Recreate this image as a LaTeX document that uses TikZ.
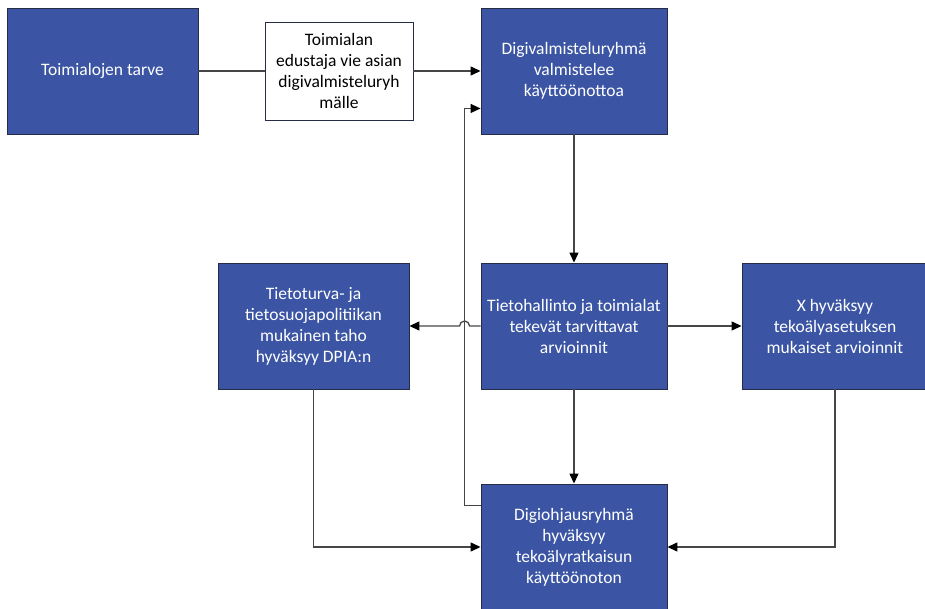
\documentclass[tikz,border=0pt]{standalone}
\usepackage{fontspec}
\setmainfont{Carlito}
\usetikzlibrary{arrows.meta,calc}
\definecolor{boxblue}{RGB}{59,85,164}
\definecolor{boxedge}{RGB}{38,44,70}
\definecolor{linegray}{RGB}{70,70,70}

\begin{document}
\begin{tikzpicture}[x=1pt,y=-1pt,
    bluebox/.style={draw=boxedge, line width=0.9pt, fill=boxblue, text=white,
        align=center, inner sep=0pt, minimum width=186pt, minimum height=126pt,
        font=\fontsize{17.5}{21}\selectfont},
    notebox/.style={draw=boxedge, line width=0.9pt, fill=white, align=center,
        inner sep=0pt, minimum width=148pt, minimum height=98pt,
        font=\fontsize{17.5}{21}\selectfont},
    link/.style={draw=linegray, line width=1.3pt},
    arr/.style={link, -{Triangle[length=10pt,width=9pt,color=black]}}]
        \clip (0,0) rectangle (925,609);

        % Top row
        \node[bluebox, minimum width=191pt] (need) at (102.5,71) {Toimialojen tarve};
        \node[notebox] (rep) at (339,71) {Toimialan\\edustaja vie asian\\digivalmisteluryh\\mälle};
        \node[bluebox] (prep) at (574,71) {Digivalmisteluryhmä\\valmistelee\\käyttöönottoa};

        % Middle row
        \node[bluebox, minimum width=191pt] (dpia) at (313.5,326) {Tietoturva- ja\\tietosuojapolitiikan\\mukainen taho\\hyväksyy DPIA:n};
        \node[bluebox] (assess) at (574,326) {Tietohallinto ja toimialat\\tekevät tarvittavat\\arvioinnit};
        \node[bluebox] (xok) at (835,326) {X hyväksyy\\tekoälyasetuksen\\mukaiset arvioinnit};

        % Bottom
        \node[bluebox] (steer) at (574,547) {Digiohjausryhmä\\hyväksyy\\tekoälyratkaisun\\käyttöönoton};

        % Connectors
        \draw[link] (need) -- (rep);
        \draw[arr] (rep) -- (prep);
        \draw[arr] (prep) -- (assess);
        \draw[arr] (assess) -- (xok);
        \draw[arr] (assess) -- (steer);
        \draw[arr] (assess.west) -- ++(-11,0) arc[start angle=0, end angle=-180, radius=5] -- (dpia.east);
        \draw[arr] (dpia) |- (steer);
        \draw[arr] (xok) |- (steer);

        % Return to preparation
        \draw[arr] ($(steer.north west)+(0,22)$) -- ++(-16,0) |- ($(prep.south west)+(0,-26)$);
    \end{tikzpicture}
\end{document}
